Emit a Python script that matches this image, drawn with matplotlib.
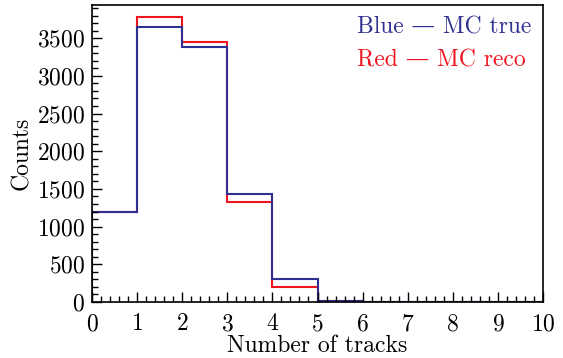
import numpy as np
import matplotlib
matplotlib.use("Agg")
import matplotlib.pyplot as plt
from matplotlib.ticker import MultipleLocator

plt.rcParams['font.family'] = ['cmr10', 'DejaVu Serif']
plt.rcParams['mathtext.fontset'] = 'cm'
plt.rcParams['axes.formatter.use_mathtext'] = True

# number of tracks per event, bin edges 0..10
edges = np.arange(0, 11)
mc_true = [1195, 3650, 3378, 1432, 309, 20, 3, 0, 0, 0]
mc_reco = [1188, 3785, 3452, 1330, 205, 12, 2, 0, 0, 0]

blue = '#303090'
red = '#f0141e'

fig = plt.figure(figsize=(5.63, 3.58), dpi=100)
ax = fig.add_axes([0.1634, 0.1564, 0.8011, 0.8296])

ax.stairs(mc_reco, edges, color=red, lw=1.5)
ax.stairs(mc_true, edges, color=blue, lw=1.5)

ax.set_xlim(0, 10)
ax.set_ylim(0, 3940)
ax.xaxis.set_major_locator(MultipleLocator(1))
ax.xaxis.set_minor_locator(MultipleLocator(0.2))
ax.yaxis.set_major_locator(MultipleLocator(500))
ax.yaxis.set_minor_locator(MultipleLocator(100))
ax.tick_params(which='both', direction='in', labelsize=17)
ax.tick_params(which='major', length=7, width=1)
ax.tick_params(which='minor', length=4, width=1)
ax.tick_params(axis='x', pad=8)
ax.tick_params(axis='y', pad=5)
for s in ax.spines.values():
    s.set_linewidth(1.2)

ax.set_xlabel('Number of tracks', fontsize=17, labelpad=0)
ax.set_ylabel('Counts', fontsize=17, labelpad=3)

ax.text(0.588, 0.925, 'Blue \u2014 MC true', color=blue, fontsize=17,
        transform=ax.transAxes, ha='left', va='center')
ax.text(0.588, 0.815, 'Red \u2014 MC reco', color=red, fontsize=17,
        transform=ax.transAxes, ha='left', va='center')

fig.savefig('out.png', dpi=100)
